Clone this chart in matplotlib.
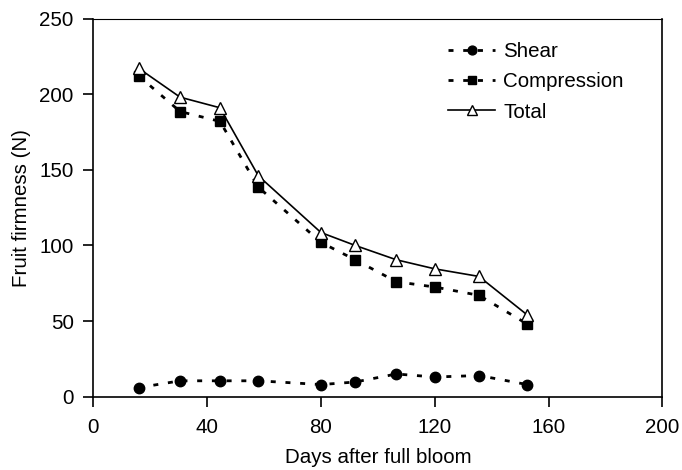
import matplotlib
matplotlib.use("Agg")
import matplotlib.pyplot as plt

plt.rcParams['font.family'] = ['Liberation Sans', 'DejaVu Sans']

# data
days = [16, 30.5, 44.5, 58, 80, 92, 106.5, 120, 135.5, 152.5]
shear = [6, 10.5, 10.5, 10.5, 8, 9.7, 15, 13, 14, 8]
compression = [212, 188.5, 182, 138.5, 102, 90.5, 76, 72.5, 67, 48]
total = [217, 198, 191, 146, 108.5, 100, 90.5, 84.5, 79.5, 54]

xticks = [0, 40, 80, 120, 160, 200]
yticks = [0, 50, 100, 150, 200, 250]

fs = 14.8

fig = plt.figure(figsize=(6.82, 4.70), dpi=100)
ax = fig.add_axes([0.1368, 0.156, 0.8346, 0.8046])

dots = (0, (1.8, 3.5))
ax.plot(days, shear, linestyle=dots, color='black', lw=2, marker='o',
        ms=7.5, mfc='black', mec='black', label='Shear', zorder=3)
ax.plot(days, compression, linestyle=dots, color='black', lw=2, marker='s',
        ms=7.5, mfc='black', mec='black', label='Compression', zorder=3)
ax.plot(days, total, linestyle='-', color='black', lw=1.2, marker='^',
        ms=9, mfc='white', mec='black', mew=1, label='Total', zorder=4)

ax.set_xlim(0, 200)
ax.set_ylim(0, 250)
ax.set_xticks(xticks)
ax.set_yticks(yticks)
ax.tick_params(direction='out', length=7, width=1.2, labelsize=fs)
ax.tick_params(axis='x', pad=8.5)
ax.tick_params(axis='y', pad=7)
for s in ax.spines.values():
    s.set_linewidth(1.2)
ax.spines['top'].set_linewidth(0.8)

ax.set_xlabel('Days after full bloom', fontsize=fs, labelpad=8)
ax.set_ylabel('Fruit firmness (N)', fontsize=fs, labelpad=6)

ax.legend(loc='upper left', bbox_to_anchor=(0.623, 0.938), frameon=False,
          fontsize=fs, handlelength=2.3, handletextpad=0.4,
          labelspacing=0.55, borderpad=0, borderaxespad=0, markerscale=0.85)

fig.savefig('out.png', dpi=100)
